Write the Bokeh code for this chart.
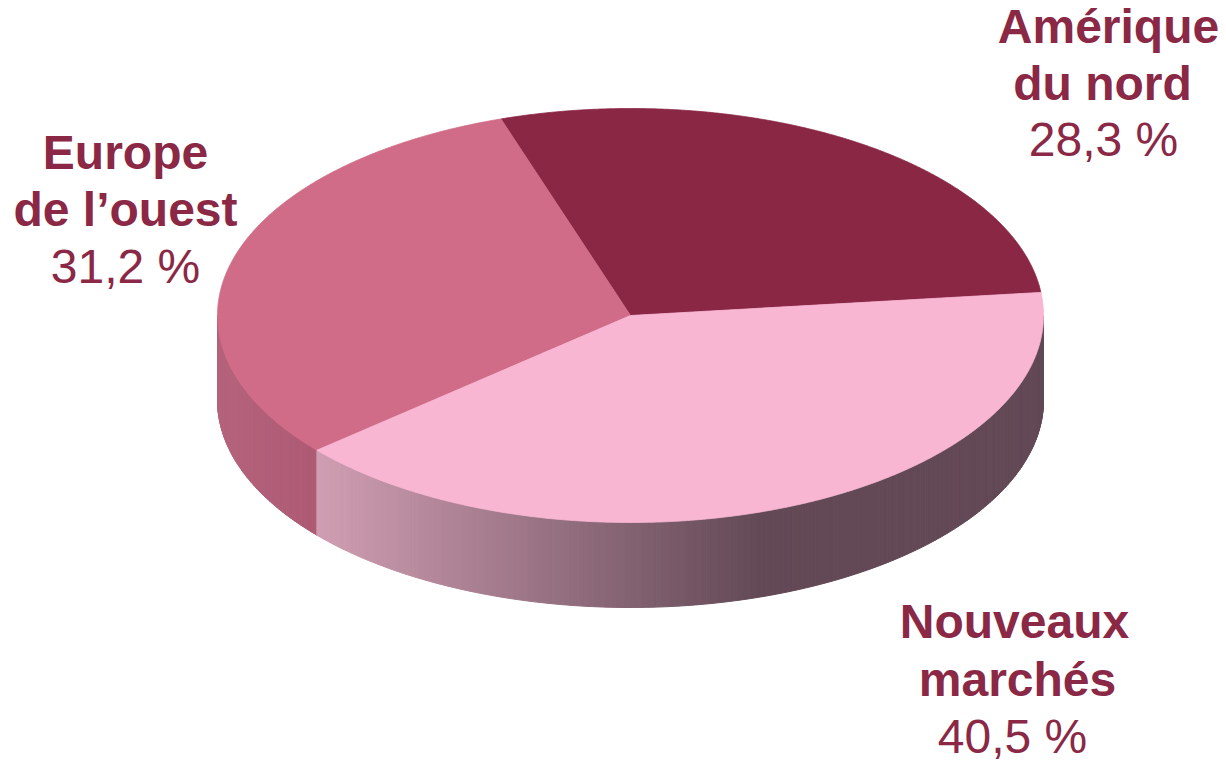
import numpy as np
from bokeh.plotting import figure
from bokeh.models import Range1d
from bokeh.core.properties import value
from bokeh.embed import file_html
from bokeh.resources import INLINE

# ---- data ----
categories = ["Amérique du nord", "Europe de l’ouest", "Nouveaux marchés"]
label_line1 = ["Amérique", "Europe", "Nouveaux"]
label_line2 = ["du nord", "de l’ouest", "marchés"]
shares = [28.3, 31.2, 40.5]

# ---- style / layout ----
top_colors = ["#8A2745", "#D06C87", "#F8B6D3"]
# side gradients: (x_start, color_start, x_end, color_end)
side_ramps = [
    (0, "#6E2038", 1, "#6E2038"),
    (217, "#B5647D", 322, "#AD5973"),
    (322, "#CF9DB1", 760, "#634956"),
]
text_color = "#8A2846"
cx, cy, rx, ry, depth = 630.0, 315.0, 413.0, 207.0, 85.0
start_deg = 6.4
text_shift = -19  # renderer baseline correction
label_pos = [  # (x line1, x line2, x line3, baseline1, spacing)
    (1108, 1102, 1103, 45, 56.5),
    (125, 125, 125, 171, 57),
    (1014, 1017, 1012, 640, 57.5),
]


def hex2rgb(h):
    h = h.lstrip("#")
    return np.array([int(h[i:i + 2], 16) for i in (0, 2, 4)], dtype=float)


def rgb2hex(c):
    c = np.clip(np.round(c), 0, 255).astype(int)
    return "#%02x%02x%02x" % tuple(c)


def ex(t):
    return cx + rx * np.cos(np.radians(t))


def ey(t):
    return cy - ry * np.sin(np.radians(t))


total = float(sum(shares))
bounds = [start_deg]
for s in shares:
    bounds.append(bounds[-1] + 360.0 * s / total)

p = figure(width=1226, height=763,
           x_range=Range1d(0, 1226), y_range=Range1d(763, 0),
           output_backend="svg", toolbar_location=None,
           x_axis_location=None, y_axis_location=None,
           min_border=0)
p.grid.visible = False
p.outline_line_color = None
p.background_fill_color = "white"
p.border_fill_color = "white"

# ---- side walls (visible front half: 180..360 deg) ----
sx, sy, sc = [], [], []
step = 0.5
for i in range(len(shares)):
    a0, a1 = bounds[i], bounds[i + 1]
    for shift in (0.0, -360.0):
        lo = max(a0 + shift, 180.0)
        hi = min(a1 + shift, 360.0)
        if hi <= lo:
            continue
        n = max(1, int(np.ceil((hi - lo) / step)))
        ts = np.linspace(lo, hi, n + 1)
        x0r, c0, x1r, c1 = side_ramps[i]
        c0, c1 = hex2rgb(c0), hex2rgb(c1)
        for k in range(n):
            t1, t2 = ts[k], ts[k + 1]
            xa, xb = ex(t1), ex(t2)
            ya, yb = ey(t1), ey(t2)
            sx.append([xa, xb, xb, xa])
            sy.append([ya, yb, yb + depth, ya + depth])
            xm = 0.5 * (xa + xb)
            f = 0.0 if x1r == x0r else np.clip((xm - x0r) / (x1r - x0r), 0, 1)
            sc.append(rgb2hex(c0 + (c1 - c0) * f))
p.patches(sx, sy, fill_color=sc, line_color=sc, line_width=1)

# ---- top wedges ----
wx, wy = [], []
for i in range(len(shares)):
    ts = np.linspace(bounds[i], bounds[i + 1], 400)
    wx.append(np.concatenate([[cx], ex(ts)]).tolist())
    wy.append(np.concatenate([[cy], ey(ts)]).tolist())
p.patches(wx, wy, fill_color=top_colors, line_color=top_colors, line_width=0.8)

# ---- labels ----
bx, by, bt = [], [], []
nx, ny, nt = [], [], []
for i in range(len(shares)):
    x1, x2, x3, b1, sp = label_pos[i]
    b1 = b1 + text_shift
    bx += [x1, x2]
    by += [b1, b1 + sp]
    bt += [label_line1[i], label_line2[i]]
    nx.append(x3)
    ny.append(b1 + 2 * sp)
    nt.append(f"{shares[i]:.1f} %".replace(".", ","))

p.text(bx, by, text=bt, text_font=value("Liberation Sans"), text_font_size="48px",
       text_font_style="bold", text_color=text_color, text_align="center",
       text_baseline="alphabetic")
p.text(nx, ny, text=nt, text_font=value("Liberation Sans"), text_font_size="48px",
       text_font_style="normal", text_color=text_color, text_align="center",
       text_baseline="alphabetic")

open("out.html", "w").write(file_html(p, INLINE))
